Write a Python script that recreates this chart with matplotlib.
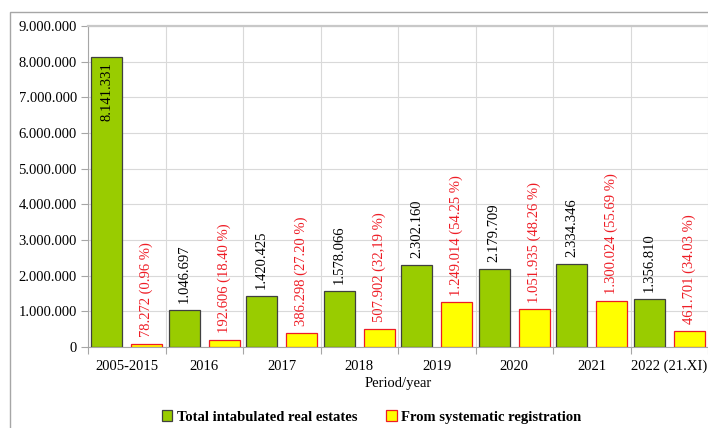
import matplotlib.pyplot as plt
from matplotlib.patches import Rectangle
from matplotlib.ticker import FuncFormatter, MultipleLocator

periods = ['2005-2015', '2016', '2017', '2018', '2019', '2020', '2021', '2022 (21.XI)']
total = [8141331, 1046697, 1420425, 1578066, 2302160, 2179709, 2334346, 1356810]
systematic = [78272, 192606, 386298, 507902, 1249014, 1051935, 1300024, 461701]
shares = ['0.96', '18.40', '27.20', '32,19', '54.25', '48.26', '55.69', '34.03']

GREEN = '#99CC00'
YELLOW = '#FFFF00'
RED = '#EE1C25'
GRID = '#D9D9D9'

plt.rcParams['font.family'] = ['Liberation Serif', 'DejaVu Serif']


def dotted(v):
    return '{:,.0f}'.format(v).replace(',', '.')


fig = plt.figure(figsize=(7.08, 4.28), dpi=100)
# outer chart border
fig.patches.append(Rectangle((10 / 708, -0.1), 1.0, 1.1 - 12 / 428,
                             transform=fig.transFigure, fill=False,
                             edgecolor='#A6A6A6', linewidth=1.0))

ax = fig.add_axes([88 / 708, 1 - 347 / 428, 620 / 708, 321 / 428])

width = 0.40
xg = [i + 0.24 for i in range(len(periods))]
xy = [i + 0.755 for i in range(len(periods))]

ax.bar(xg, total, width, color=GREEN, edgecolor='#404040', linewidth=0.9,
       label='Total intabulated real estates', zorder=3)
ax.bar(xy, systematic, width, color=YELLOW, edgecolor=RED, linewidth=0.9,
       label='From systematic registration', zorder=3)

for i, v in enumerate(total):
    if v > 5000000:
        ax.annotate(dotted(v), (xg[i], v), xytext=(0, -4), textcoords='offset points',
                    rotation=90, ha='center', va='top', fontsize=10.5, color='black', zorder=4)
    else:
        ax.annotate(dotted(v), (xg[i], v), xytext=(0, 5), textcoords='offset points',
                    rotation=90, ha='center', va='bottom', fontsize=10.5, color='black', zorder=4)

for i, v in enumerate(systematic):
    ax.annotate('{} ({} %)'.format(dotted(v), shares[i]), (xy[i], v), xytext=(0, 5),
                textcoords='offset points', rotation=90, ha='center', va='bottom',
                fontsize=10.5, color=RED, zorder=4)

ax.set_xlim(0, len(periods))
ax.set_ylim(0, 9000000)
ax.yaxis.set_major_locator(MultipleLocator(1000000))
ax.yaxis.set_major_formatter(FuncFormatter(lambda v, p: dotted(v)))

ax.set_xticks(range(len(periods) + 1))
ax.set_xticklabels([])
ax.set_xticks([i + 0.5 for i in range(len(periods))], minor=True)
ax.set_xticklabels(periods, minor=True, fontsize=10.5)
ax.tick_params(axis='x', which='minor', length=0, pad=9)
ax.tick_params(axis='x', which='major', length=5, color='#A6A6A6')
ax.tick_params(axis='y', length=5, color='#A6A6A6', labelsize=10.5, pad=3)

ax.grid(True, which='major', color=GRID, linewidth=0.8, zorder=0)
ax.set_axisbelow(True)

for s in ['left', 'bottom']:
    ax.spines[s].set_color('#A6A6A6')
ax.spines['top'].set_color('#C8C8C8')
ax.spines['top'].set_linewidth(1.6)
ax.spines['right'].set_visible(False)

ax.set_xlabel('Period/year', fontsize=10.5, labelpad=3)

leg = fig.legend(loc='center', bbox_to_anchor=(0.525, 1 - 417 / 428), ncol=2,
                 frameon=False, prop={'weight': 'bold', 'size': 10.5},
                 handlelength=0.7, handleheight=0.7, handletextpad=0.3,
                 columnspacing=2.0)

fig.savefig('out.png', dpi=100)
